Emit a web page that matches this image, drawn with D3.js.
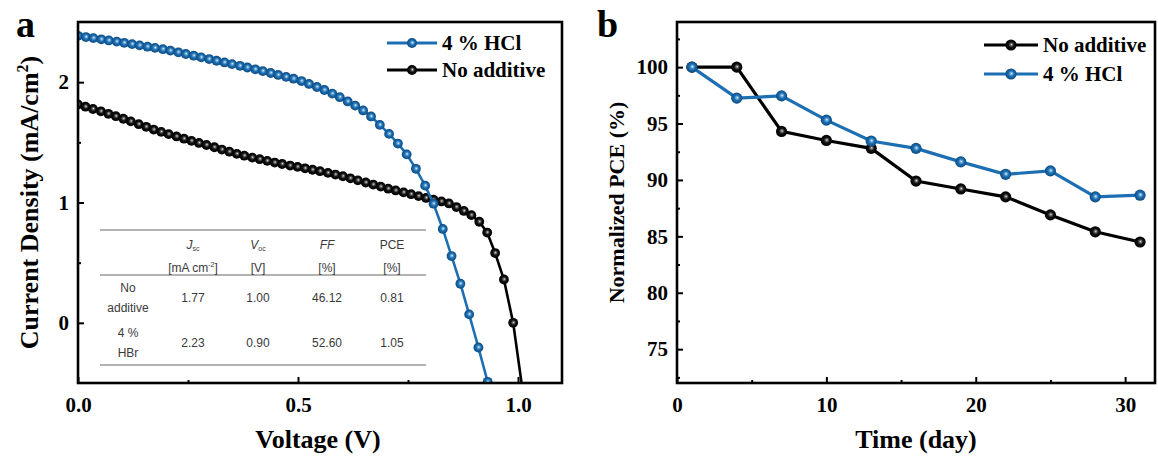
<!DOCTYPE html>
<html>
<head>
<meta charset="utf-8">
<script src="https://cdn.jsdelivr.net/npm/d3@7"></script>
<style>
  html, body { margin: 0; padding: 0; background: #fff; }
  svg { display: block; }
</style>
</head>
<body>
<svg id="chart" width="1158" height="461"></svg>
<script>
// ---------------- DATA ----------------
// Panel a: J-V curves
const hclVoltage = [0, 0.018, 0.035, 0.053, 0.07, 0.088, 0.105, 0.123, 0.14, 0.158, 0.175, 0.193, 0.21, 0.228, 0.245, 0.263, 0.28, 0.298, 0.315, 0.333, 0.35, 0.368, 0.385, 0.403, 0.42, 0.438, 0.455, 0.473, 0.49, 0.508, 0.525, 0.543, 0.56, 0.578, 0.595, 0.613, 0.63, 0.648, 0.666, 0.686, 0.707, 0.727, 0.747, 0.768, 0.789, 0.808, 0.829, 0.849, 0.869, 0.889, 0.91, 0.931, 0.952];
const hclCurrent = [2.385, 2.375, 2.366, 2.356, 2.347, 2.337, 2.327, 2.316, 2.306, 2.295, 2.285, 2.274, 2.262, 2.248, 2.234, 2.22, 2.206, 2.192, 2.178, 2.164, 2.15, 2.136, 2.122, 2.107, 2.092, 2.076, 2.06, 2.044, 2.029, 2.009, 1.985, 1.96, 1.935, 1.905, 1.875, 1.84, 1.805, 1.765, 1.715, 1.645, 1.57, 1.49, 1.40, 1.28, 1.14, 0.99, 0.78, 0.555, 0.325, 0.07, -0.205, -0.49, -0.80];
const noAddVoltage = [0, 0.017, 0.034, 0.052, 0.069, 0.086, 0.103, 0.12, 0.138, 0.155, 0.172, 0.189, 0.206, 0.224, 0.241, 0.258, 0.275, 0.292, 0.31, 0.327, 0.344, 0.361, 0.378, 0.396, 0.413, 0.43, 0.447, 0.464, 0.482, 0.499, 0.516, 0.533, 0.55, 0.568, 0.585, 0.602, 0.619, 0.636, 0.654, 0.671, 0.688, 0.705, 0.722, 0.74, 0.757, 0.774, 0.791, 0.808, 0.826, 0.843, 0.86, 0.877, 0.894, 0.912, 0.93, 0.948, 0.968, 0.989, 1.01];
const noAddCurrent = [1.815, 1.796, 1.777, 1.758, 1.737, 1.717, 1.696, 1.674, 1.651, 1.629, 1.606, 1.587, 1.568, 1.549, 1.53, 1.512, 1.495, 1.478, 1.459, 1.44, 1.422, 1.404, 1.389, 1.373, 1.36, 1.346, 1.332, 1.32, 1.307, 1.296, 1.284, 1.272, 1.26, 1.246, 1.232, 1.218, 1.201, 1.184, 1.166, 1.149, 1.132, 1.115, 1.10, 1.084, 1.069, 1.053, 1.038, 1.023, 1.009, 0.992, 0.962, 0.93, 0.895, 0.84, 0.75, 0.58, 0.36, 0.0, -0.55];

const jvXTicks = [0, 0.5, 1.0];
const jvXMinor = [0.25, 0.75];
const jvYTicks = [0, 1, 2];
const jvYMinor = [0.5, 1.5];

// Inset table
const tableRowLabels = [["No", "additive"], ["4 %", "HBr"]];
const tableJsc = ["1.77", "2.23"];
const tableVoc = ["1.00", "0.90"];
const tableFF = ["46.12", "52.60"];
const tablePCE = ["0.81", "1.05"];

// Panel b: stability
const days = [1, 4, 7, 10, 13, 16, 19, 22, 25, 28, 31];
const pceNoAdditive = [100, 100, 94.3, 93.5, 92.8, 89.9, 89.2, 88.5, 86.9, 85.4, 84.5];
const pceHCl = [100, 97.25, 97.45, 95.3, 93.45, 92.8, 91.6, 90.5, 90.8, 88.5, 88.65];

const timeTicks = [0, 10, 20, 30];
const timeMinor = [5, 15, 25];
const pceTicks = [75, 80, 85, 90, 95, 100];
const pceMinor = [72.5, 77.5, 82.5, 87.5, 92.5, 97.5, 102.5];

// ---------------- STYLE ----------------
const BLUE = "#1c6fb2";
const BLACK = "#000000";
const SERIF = "'Liberation Serif','Times New Roman',Times,serif";
const SANS = "'Liberation Sans',Arial,Helvetica,sans-serif";

const svg = d3.select("#chart");
const defs = svg.append("defs");

function ballGradient(id, light, mid, base, dark) {
  const g = defs.append("radialGradient").attr("id", id)
    .attr("cx", "50%").attr("cy", "50%").attr("r", "50%")
    .attr("fx", "55%").attr("fy", "45%");
  g.append("stop").attr("offset", "0%").attr("stop-color", light);
  g.append("stop").attr("offset", "18%").attr("stop-color", mid);
  g.append("stop").attr("offset", "50%").attr("stop-color", base);
  g.append("stop").attr("offset", "100%").attr("stop-color", dark);
}
ballGradient("ballBlue", "#f4f9fd", "#7db4df", BLUE, "#0d4a80");
ballGradient("ballBlack", "#e8e8e8", "#7a7a7a", "#111", "#000");

// ---------------- PANEL A ----------------
const A = { left: 78, right: 562, top: 22, bottom: 383 };
const xA = d3.scaleLinear().domain([0, 1.1]).range([A.left, A.right]);
const yA = d3.scaleLinear().domain([-0.5, 2.5]).range([A.bottom, A.top]);

defs.append("clipPath").attr("id", "clipA")
  .append("rect").attr("x", A.left).attr("y", A.top)
  .attr("width", A.right - A.left).attr("height", A.bottom - A.top);

const gA = svg.append("g");

// Inset table
const tbl = gA.append("g").attr("font-family", SANS).attr("font-size", 12).attr("fill", "#3a3a3a");
const tblX0 = 100, tblX1 = 426;
[230, 275, 365].forEach((yy) => {
  tbl.append("line").attr("x1", tblX0).attr("x2", tblX1).attr("y1", yy).attr("y2", yy)
    .attr("stroke", "#9a9a9a").attr("stroke-width", 1.5);
});
const colX = [128, 193, 258, 327, 392];
let t = tbl.append("text").attr("x", colX[1]).attr("y", 249).attr("text-anchor", "middle");
t.append("tspan").attr("font-style", "italic").text("J");
t.append("tspan").attr("font-size", 7).attr("dy", 2).text("sc");
t = tbl.append("text").attr("x", colX[1]).attr("y", 272).attr("text-anchor", "middle");
t.append("tspan").text("[mA cm");
t.append("tspan").attr("font-size", 7).attr("dy", -5).text("-2");
t.append("tspan").attr("dy", 5).text("]");
t = tbl.append("text").attr("x", colX[2]).attr("y", 249).attr("text-anchor", "middle");
t.append("tspan").attr("font-style", "italic").text("V");
t.append("tspan").attr("font-size", 7).attr("dy", 2).text("oc");
tbl.append("text").attr("x", colX[2]).attr("y", 272).attr("text-anchor", "middle").text("[V]");
tbl.append("text").attr("x", colX[3]).attr("y", 249).attr("text-anchor", "middle").attr("font-style", "italic").text("FF");
tbl.append("text").attr("x", colX[3]).attr("y", 272).attr("text-anchor", "middle").text("[%]");
tbl.append("text").attr("x", colX[4]).attr("y", 249).attr("text-anchor", "middle").text("PCE");
tbl.append("text").attr("x", colX[4]).attr("y", 272).attr("text-anchor", "middle").text("[%]");
const rowY = [302, 347];
tableRowLabels.forEach((lab, i) => {
  tbl.append("text").attr("x", colX[0]).attr("y", rowY[i] - 10).attr("text-anchor", "middle").text(lab[0]);
  tbl.append("text").attr("x", colX[0]).attr("y", rowY[i] + 10).attr("text-anchor", "middle").text(lab[1]);
  [tableJsc, tableVoc, tableFF, tablePCE].forEach((col, j) => {
    tbl.append("text").attr("x", colX[j + 1]).attr("y", rowY[i]).attr("text-anchor", "middle").text(col[i]);
  });
});

// curves
const curveA = gA.append("g").attr("clip-path", "url(#clipA)");
function drawJV(volt, curr, color, grad) {
  const pts = volt.map((v, i) => [v, curr[i]]);
  const line = d3.line().x(d => xA(d[0])).y(d => yA(d[1]));
  curveA.append("path").datum(pts).attr("d", line)
    .attr("fill", "none").attr("stroke", color).attr("stroke-width", 2.6);
  curveA.append("g").selectAll("circle").data(pts).join("circle")
    .attr("cx", d => xA(d[0])).attr("cy", d => yA(d[1])).attr("r", 4.9)
    .attr("fill", `url(#${grad})`);
}
drawJV(noAddVoltage, noAddCurrent, BLACK, "ballBlack");
drawJV(hclVoltage, hclCurrent, BLUE, "ballBlue");

function styleAxis(g, fontSize) {
  g.select(".domain").remove();
  g.selectAll(".tick line").attr("stroke", "#000").attr("stroke-width", 2);
  g.selectAll(".tick text").attr("font-family", SERIF).attr("font-weight", "bold")
    .attr("font-size", fontSize).attr("fill", "#000");
}
gA.append("g").attr("transform", `translate(0,${A.bottom})`)
  .call(d3.axisBottom(xA).tickValues(jvXTicks).tickFormat(d3.format(".1f")).tickSizeInner(-6).tickSizeOuter(0).tickPadding(14))
  .call(g => styleAxis(g, 21));
gA.append("g").attr("transform", `translate(0,${A.bottom})`)
  .call(d3.axisBottom(xA).tickValues(jvXMinor).tickFormat("").tickSizeInner(-3).tickSizeOuter(0))
  .call(g => styleAxis(g, 21));
gA.append("g").attr("transform", `translate(${A.left},0)`)
  .call(d3.axisLeft(yA).tickValues(jvYTicks).tickFormat(d3.format("d")).tickSizeInner(-6).tickSizeOuter(0).tickPadding(9))
  .call(g => styleAxis(g, 21));
gA.append("g").attr("transform", `translate(${A.left},0)`)
  .call(d3.axisLeft(yA).tickValues(jvYMinor).tickFormat("").tickSizeInner(-3).tickSizeOuter(0))
  .call(g => styleAxis(g, 21));

gA.append("rect").attr("x", A.left).attr("y", A.top)
  .attr("width", A.right - A.left).attr("height", A.bottom - A.top)
  .attr("fill", "none").attr("stroke", "#000").attr("stroke-width", 2.6);

gA.append("text").attr("x", (A.left + A.right) / 2 - 2).attr("y", 448)
  .attr("text-anchor", "middle").attr("font-family", SERIF).attr("font-weight", "bold")
  .attr("font-size", 26).text("Voltage (V)");
const yt = gA.append("text").attr("transform", `translate(38,${(A.top + A.bottom) / 2}) rotate(-90)`)
  .attr("text-anchor", "middle").attr("font-family", SERIF).attr("font-weight", "bold")
  .attr("font-size", 26);
yt.append("tspan").text("Current Density (mA/cm");
yt.append("tspan").attr("font-size", 16).attr("dy", -10).text("2");
yt.append("tspan").attr("dy", 10).text(")");

svg.append("text").attr("x", 16).attr("y", 37).attr("font-family", SERIF).attr("font-weight", "bold")
  .attr("font-size", 38).text("a");

function legendItem(g, x0, y, color, grad, label, len, r) {
  g.append("line").attr("x1", x0).attr("x2", x0 + len).attr("y1", y).attr("y2", y)
    .attr("stroke", color).attr("stroke-width", 3);
  g.append("circle").attr("cx", x0 + len / 2).attr("cy", y).attr("r", r).attr("fill", `url(#${grad})`);
  g.append("text").attr("x", x0 + len + 5).attr("y", y + 7).attr("font-family", SERIF)
    .attr("font-weight", "bold").attr("font-size", 21).text(label);
}
legendItem(gA, 387, 43, BLUE, "ballBlue", "4 % HCl", 50, 5);
legendItem(gA, 387, 70, BLACK, "ballBlack", "No additive", 50, 5);

// ---------------- PANEL B ----------------
const B = { left: 677, right: 1155, top: 22, bottom: 383 };
const xB = d3.scaleLinear().domain([0, 32]).range([B.left, B.right]);
const yB = d3.scaleLinear().domain([72, 104]).range([B.bottom, B.top]);
const gB = svg.append("g");

function drawSeries(vals, color, grad) {
  const pts = days.map((d, i) => [d, vals[i]]);
  gB.append("path").datum(pts).attr("d", d3.line().x(d => xB(d[0])).y(d => yB(d[1])))
    .attr("fill", "none").attr("stroke", color).attr("stroke-width", 3.2);
  gB.append("g").selectAll("circle").data(pts).join("circle")
    .attr("cx", d => xB(d[0])).attr("cy", d => yB(d[1])).attr("r", 5.6)
    .attr("fill", `url(#${grad})`);
}
drawSeries(pceNoAdditive, BLACK, "ballBlack");
drawSeries(pceHCl, BLUE, "ballBlue");

gB.append("g").attr("transform", `translate(0,${B.bottom})`)
  .call(d3.axisBottom(xB).tickValues(timeTicks).tickFormat(d3.format("d")).tickSizeInner(-6).tickSizeOuter(0).tickPadding(14))
  .call(g => styleAxis(g, 21));
gB.append("g").attr("transform", `translate(0,${B.bottom})`)
  .call(d3.axisBottom(xB).tickValues(timeMinor).tickFormat("").tickSizeInner(-3).tickSizeOuter(0))
  .call(g => styleAxis(g, 21));
gB.append("g").attr("transform", `translate(${B.left},0)`)
  .call(d3.axisLeft(yB).tickValues(pceTicks).tickFormat(d3.format("d")).tickSizeInner(-6).tickSizeOuter(0).tickPadding(9))
  .call(g => styleAxis(g, 21));
gB.append("g").attr("transform", `translate(${B.left},0)`)
  .call(d3.axisLeft(yB).tickValues(pceMinor).tickFormat("").tickSizeInner(-3).tickSizeOuter(0))
  .call(g => styleAxis(g, 21));

gB.append("rect").attr("x", B.left).attr("y", B.top)
  .attr("width", B.right - B.left).attr("height", B.bottom - B.top)
  .attr("fill", "none").attr("stroke", "#000").attr("stroke-width", 2.6);

gB.append("text").attr("x", (B.left + B.right) / 2).attr("y", 448)
  .attr("text-anchor", "middle").attr("font-family", SERIF).attr("font-weight", "bold")
  .attr("font-size", 26).text("Time (day)");
gB.append("text").attr("transform", `translate(624,${(B.top + B.bottom) / 2}) rotate(-90)`)
  .attr("text-anchor", "middle").attr("font-family", SERIF).attr("font-weight", "bold")
  .attr("font-size", 22).text("Normalized PCE (%)");

svg.append("text").attr("x", 597).attr("y", 37).attr("font-family", SERIF).attr("font-weight", "bold")
  .attr("font-size", 38).text("b");

legendItem(gB, 984, 45, BLACK, "ballBlack", "No additive", 54, 5.6);
legendItem(gB, 984, 74, BLUE, "ballBlue", "4 % HCl", 54, 5.6);
</script>
</body>
</html>
